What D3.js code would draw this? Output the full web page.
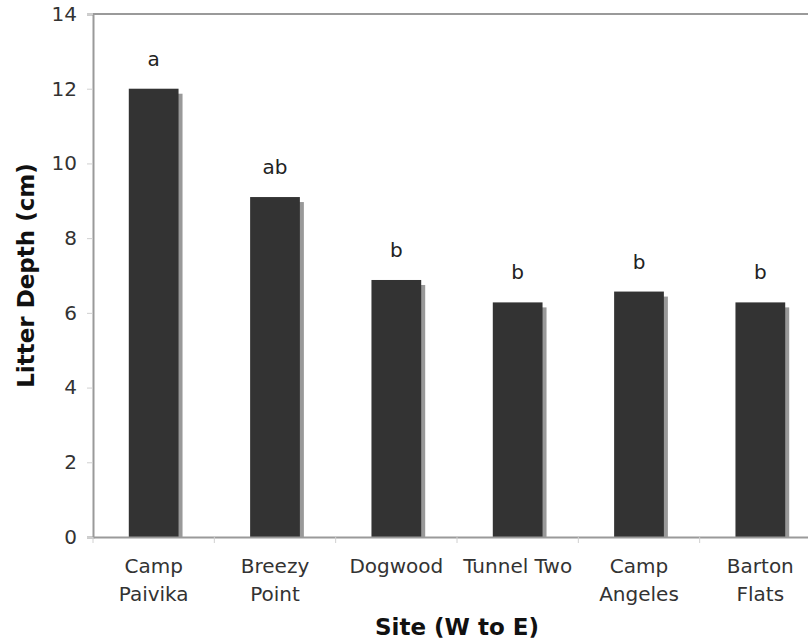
<!DOCTYPE html>
<html>
<head>
<meta charset="utf-8">
<script src="https://cdn.jsdelivr.net/npm/d3@7/dist/d3.min.js"></script>
<style>
  html, body { margin: 0; padding: 0; background: #fff; }
  svg { display: block; }
  text { font-family: "DejaVu Sans", Verdana, sans-serif; }
</style>
</head>
<body>
<svg id="chart" width="808" height="642"></svg>
<script>
// ---- data ----
const sites = [["Camp", "Paivika"], ["Breezy", "Point"], ["Dogwood"], ["Tunnel Two"], ["Camp", "Angeles"], ["Barton", "Flats"]];
const litterDepth = [12.0, 9.1, 6.88, 6.28, 6.57, 6.28];
const groupLetters = ["a", "ab", "b", "b", "b", "b"];
const yTicks = [0, 2, 4, 6, 8, 10, 12, 14];
const yTitle = "Litter Depth (cm)";
const xTitle = "Site (W to E)";

(function () {
// ---- layout ----
const svg = d3.select("#chart");
const mLeft = 93, mRight = 821, mTop = 14, mBottom = 537;
const siteKeys = sites.map(s => s.join(" "));

const x = d3.scaleBand().domain(siteKeys).range([mLeft, mRight]).padding(0);
const y = d3.scaleLinear().domain([0, 14]).range([mBottom, mTop]);
const barFrac = 0.41;
const bw = x.bandwidth() * barFrac;

const axisColor = "#9a9a9a";

// top border line
svg.append("line")
  .attr("x1", mLeft).attr("x2", 808)
  .attr("y1", y(14)).attr("y2", y(14))
  .attr("stroke", axisColor).attr("stroke-width", 2);

// bars with shadow
const data = siteKeys.map((k, i) => ({ key: k, v: litterDepth[i], letter: groupLetters[i] }));
const g = svg.append("g");
g.selectAll("rect.shadow").data(data).join("rect")
  .attr("class", "shadow")
  .attr("x", d => x(d.key) + (x.bandwidth() - bw) / 2 + 4)
  .attr("y", d => y(d.v) + 5)
  .attr("width", bw)
  .attr("height", d => y(0) - y(d.v) - 5)
  .attr("fill", "#999999");
g.selectAll("rect.bar").data(data).join("rect")
  .attr("class", "bar")
  .attr("x", d => x(d.key) + (x.bandwidth() - bw) / 2)
  .attr("y", d => y(d.v))
  .attr("width", bw)
  .attr("height", d => y(0) - y(d.v))
  .attr("fill", "#333333");

// letters
g.selectAll("text.letter").data(data).join("text")
  .attr("class", "letter")
  .attr("x", d => x(d.key) + x.bandwidth() / 2)
  .attr("y", d => y(d.v) - 23)
  .attr("text-anchor", "middle")
  .attr("font-size", 20)
  .attr("fill", "#222")
  .text(d => d.letter);

// y axis
const yAxis = svg.append("g")
  .attr("transform", `translate(${mLeft},0)`)
  .call(d3.axisLeft(y).tickValues(yTicks).tickSize(6).tickPadding(10));
yAxis.select(".domain").attr("stroke", axisColor).attr("stroke-width", 2);
yAxis.selectAll(".tick line").attr("stroke", "#d0d0d0");
yAxis.selectAll(".tick text")
  .attr("font-size", 20).attr("fill", "#333")
  .attr("font-family", "DejaVu Sans, Verdana, sans-serif");

// x axis
const xAxis = svg.append("g")
  .attr("transform", `translate(0,${mBottom})`)
  .call(d3.axisBottom(x).tickSize(0).tickSizeOuter(0).tickFormat(""));
xAxis.select(".domain").attr("stroke", axisColor).attr("stroke-width", 2);
xAxis.selectAll(".tick").remove();
// boundary tick marks
const bounds = siteKeys.map(k => x(k)).concat([x(siteKeys[siteKeys.length - 1]) + x.bandwidth()]);
xAxis.selectAll("line.btick").data(bounds).join("line")
  .attr("class", "btick")
  .attr("x1", d => d).attr("x2", d => d)
  .attr("y1", 0).attr("y2", 6)
  .attr("stroke", "#d0d0d0");

// category labels
const cat = svg.append("g").selectAll("text.cat").data(sites).join("text")
  .attr("class", "cat")
  .attr("x", (d, i) => x(siteKeys[i]) + x.bandwidth() / 2)
  .attr("y", 573)
  .attr("text-anchor", "middle")
  .attr("font-size", 20)
  .attr("fill", "#333");
cat.each(function (d, i) {
  const t = d3.select(this);
  d.forEach((line, j) => {
    t.append("tspan")
      .attr("x", x(siteKeys[i]) + x.bandwidth() / 2)
      .attr("dy", j === 0 ? 0 : 28)
      .text(line);
  });
});

// titles
svg.append("text")
  .attr("transform", `translate(34,${(mTop + mBottom) / 2}) rotate(-90)`)
  .attr("text-anchor", "middle")
  .attr("font-size", 23)
  .attr("font-weight", "bold")
  .attr("fill", "#111")
  .text(yTitle);

svg.append("text")
  .attr("x", (mLeft + mRight) / 2)
  .attr("y", 635)
  .attr("text-anchor", "middle")
  .attr("font-size", 23)
  .attr("font-weight", "bold")
  .attr("fill", "#111")
  .text(xTitle);
})();
</script>
</body>
</html>
